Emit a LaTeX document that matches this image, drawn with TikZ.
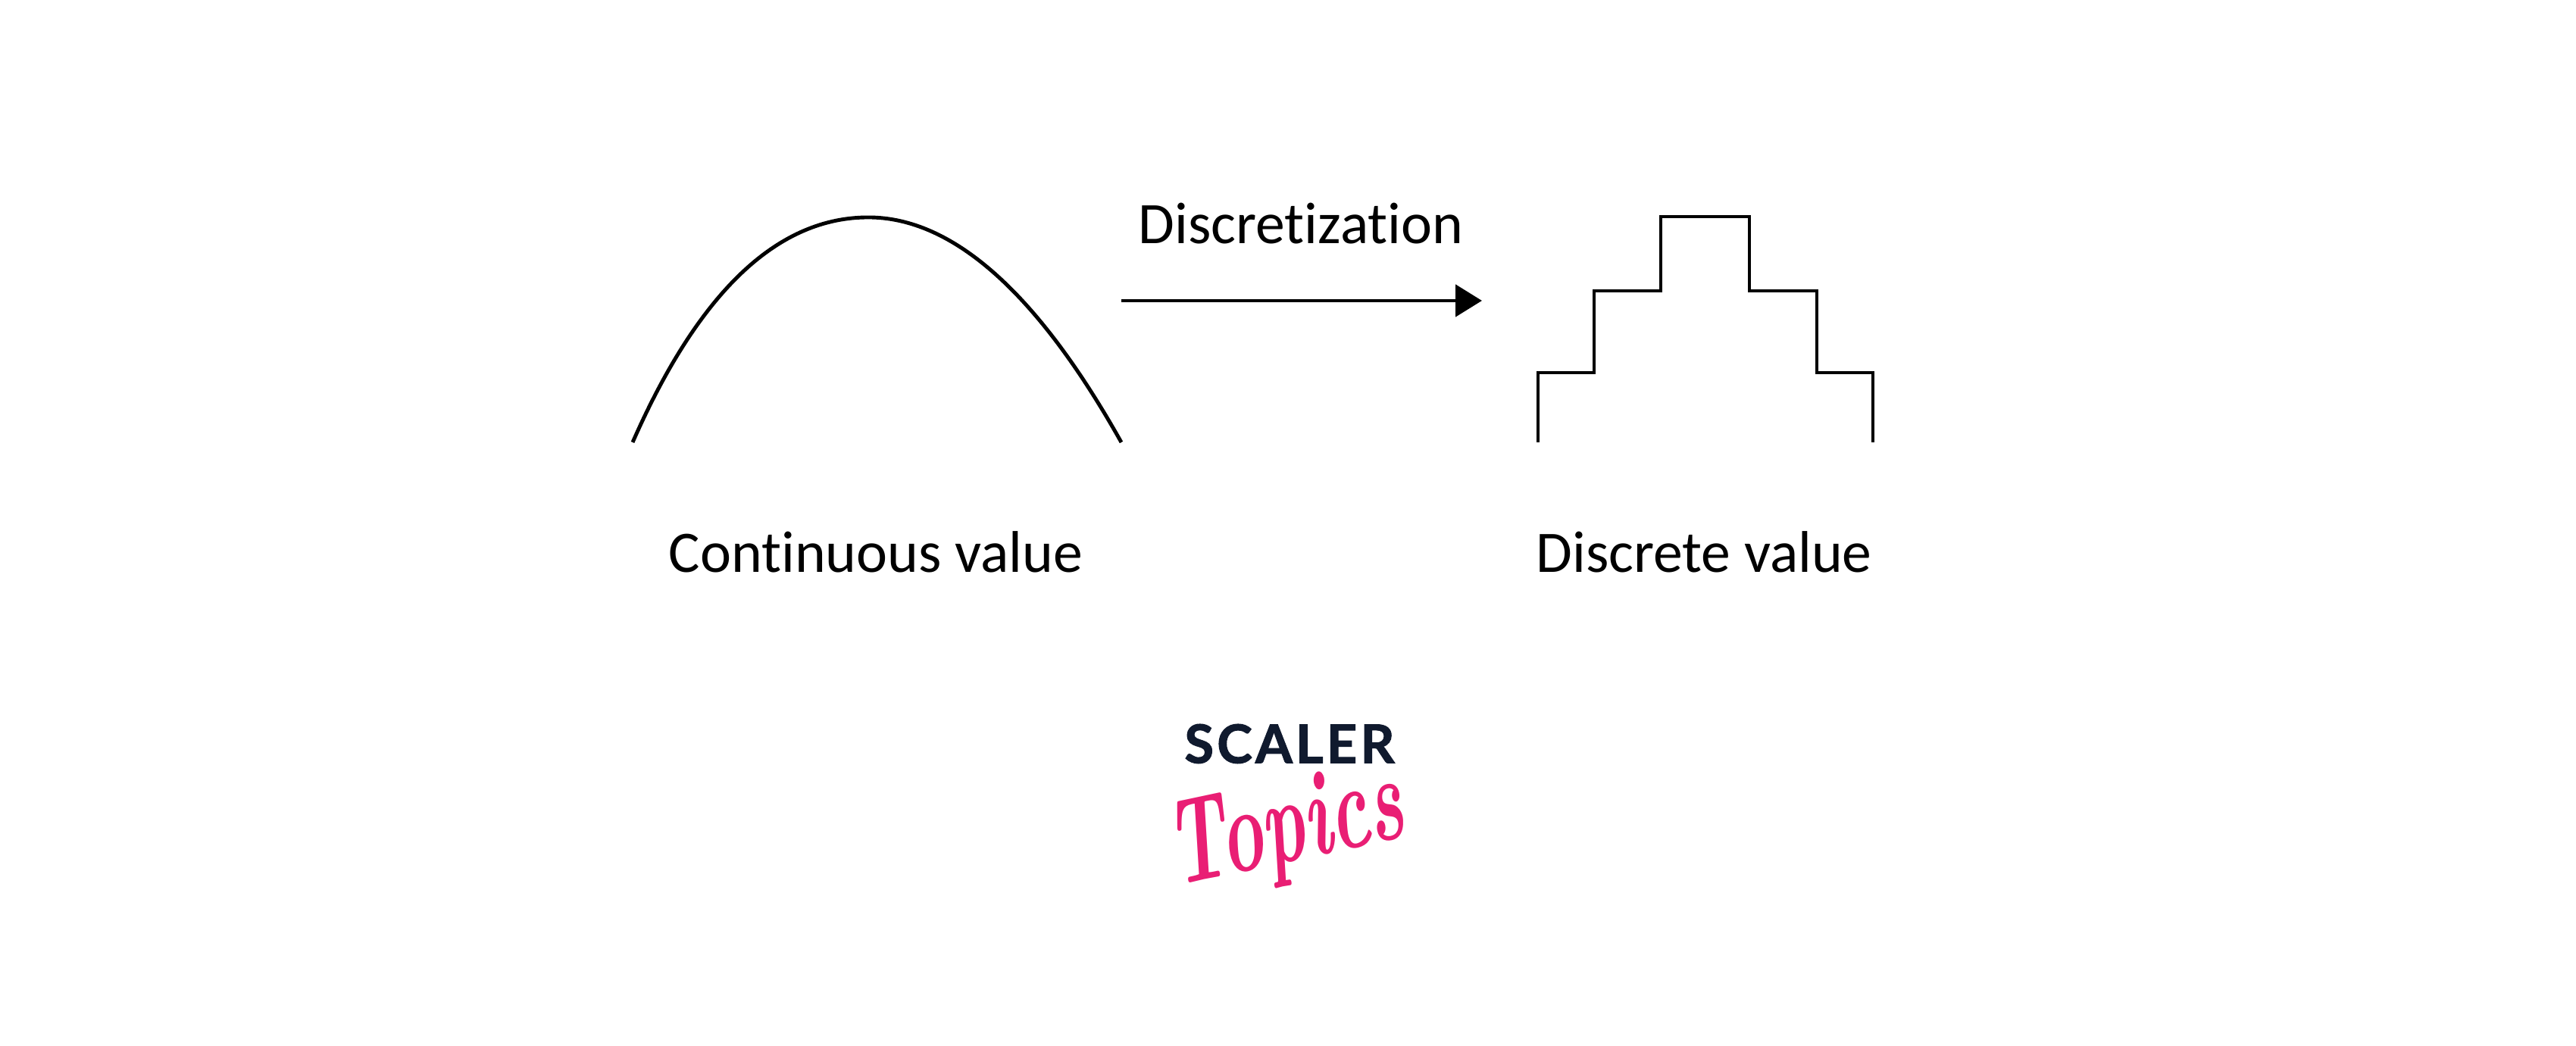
\documentclass[tikz,border=0pt]{standalone}
\usepackage{fontspec}
\usepackage{tikz}
\usetikzlibrary{arrows.meta}
\setmainfont[Ligatures=NoCommon]{Carlito}
\newfontfamily\scalerfont[LetterSpace=6,FakeBold=1.6]{Lato}
\newfontfamily\topicsfont[Ligatures=NoCommon]{Latin Modern Roman}
\definecolor{scalernavy}{HTML}{101A2E}
\definecolor{topicspink}{HTML}{E91E74}
\tikzset{
    valueline/.style={line width=1.4pt, black},
    caption/.style={font=\fontsize{22.1}{27}\selectfont, black, inner sep=0pt}
}

\begin{document}
\begin{tikzpicture}
            \useasboundingbox (0,0) rectangle (34,13.81);

            \draw[valueline] (8.35,7.97) .. controls (9.25,10.02) and (10.30,10.94) .. (11.46,10.94) .. controls (12.57,10.94) and (13.69,9.95) .. (14.80,7.97);

            \coordinate (arrowstart) at (14.80,9.84);
            \coordinate (arrowend) at (19.56,9.84);
            \draw[valueline, -{Triangle[length=3.5mm, width=4.2mm]}] (arrowstart) -- (arrowend);
            \node[caption] (discretization) at (17.17,10.86) {Discretization};

            \draw[valueline] (20.30,7.97) |- (21.04,8.89) |- (21.92,9.97) |- (23.09,10.95) |- (23.98,9.97) |- (24.72,8.89) -- (24.72,7.97);

            \node[caption] (continuous) at (11.56,6.52) {Continuous value};
            \node[caption] (discrete) at (22.49,6.52) {Discrete value};

            \node[font=\scalerfont\bfseries\fontsize{20}{24}\selectfont, text=scalernavy, inner sep=0pt] (scaler) at (17.02,3.99) {SCALER};
            \node[font=\topicsfont\itshape\bfseries\fontsize{38}{44}\selectfont, text=topicspink, inner sep=0pt, rotate=12, xscale=0.72, yscale=1.2, transform shape] (topics) at (16.98,2.82) {Topics};
        \end{tikzpicture}
\end{document}
